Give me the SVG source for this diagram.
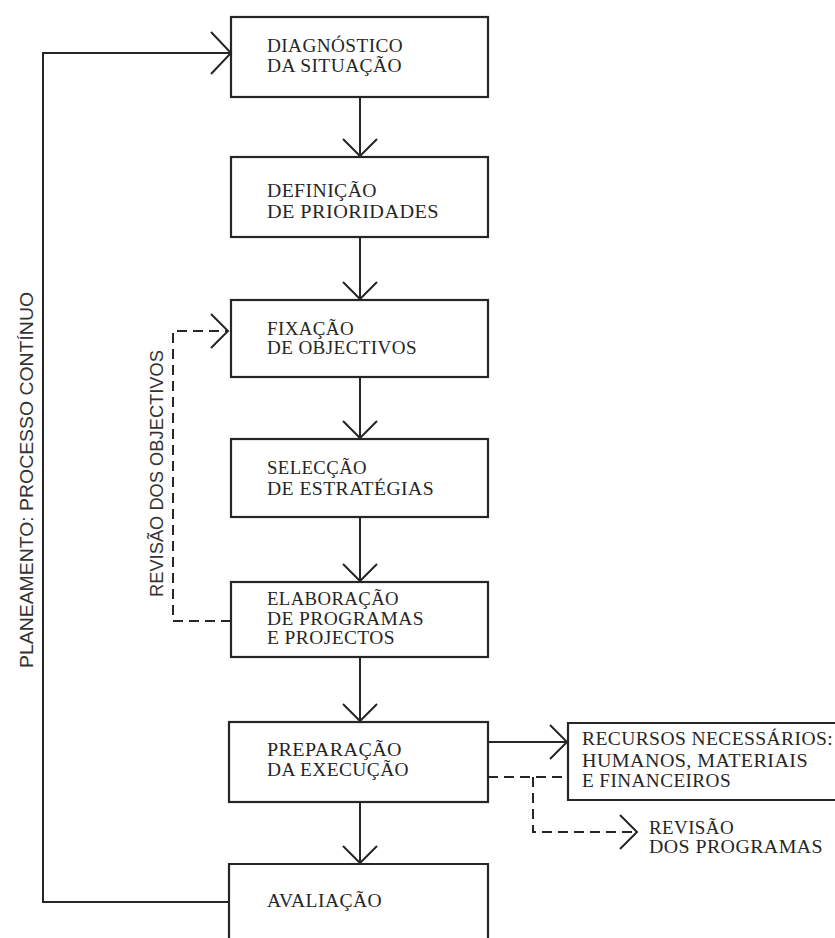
<svg xmlns="http://www.w3.org/2000/svg" width="835" height="938" viewBox="0 0 835 938">
<style>
.box{fill:none;stroke:#262626;stroke-width:2.2}
.t{font-family:"Liberation Serif","Times New Roman",serif;font-size:19px;fill:#262626;letter-spacing:0.4px}
.s{font-family:"Liberation Sans",Arial,sans-serif;font-size:18px;fill:#333}
.ln{fill:none;stroke:#262626;stroke-width:2}
.dash{fill:none;stroke:#262626;stroke-width:2;stroke-dasharray:10 6}
</style>
<defs>
<marker id="chev" viewBox="-20 -25 24 50" markerWidth="24" markerHeight="50" refX="0" refY="0" markerUnits="userSpaceOnUse" orient="auto">
<path d="M-17,-17 L0,0 L-17,17" fill="none" stroke="#262626" stroke-width="2"/>
</marker>
<marker id="chevL" viewBox="-24 -26 28 52" markerWidth="28" markerHeight="52" refX="0" refY="0" markerUnits="userSpaceOnUse" orient="auto">
<path d="M-20,-21 L0,0 L-20,21" fill="none" stroke="#262626" stroke-width="2"/>
</marker>
</defs>
<rect width="835" height="938" fill="#ffffff"/>

<g id="connectors">
<path class="ln" d="M229,902 H43 V53 H231" marker-end="url(#chevL)"/>
<line class="ln" x1="360" y1="97" x2="360" y2="156" marker-end="url(#chev)"/>
<line class="ln" x1="360" y1="237" x2="360" y2="299" marker-end="url(#chev)"/>
<line class="ln" x1="360" y1="377" x2="360" y2="438" marker-end="url(#chev)"/>
<line class="ln" x1="360" y1="517" x2="360" y2="581" marker-end="url(#chev)"/>
<line class="ln" x1="360" y1="657" x2="360" y2="721" marker-end="url(#chev)"/>
<line class="ln" x1="360" y1="802" x2="360" y2="863" marker-end="url(#chev)"/>
<path class="dash" d="M231,621 H173 V331 H228" marker-end="url(#chev)"/>
<line class="ln" x1="488" y1="742" x2="567" y2="742" marker-end="url(#chev)"/>
<line class="dash" x1="488" y1="777" x2="567" y2="777"/>
<path class="dash" d="M533,777 V832 H637" marker-end="url(#chev)"/>
</g>

<g id="diagnostico">
<rect class="box" x="231" y="17" width="257" height="80"/>
<text class="t" x="267" y="52" textLength="136" lengthAdjust="spacingAndGlyphs">DIAGNÓSTICO</text>
<text class="t" x="267" y="72" textLength="135" lengthAdjust="spacingAndGlyphs">DA SITUAÇÃO</text>
</g>
<g id="definicao">
<rect class="box" x="231" y="157" width="257" height="80"/>
<text class="t" x="267" y="197" textLength="110" lengthAdjust="spacingAndGlyphs">DEFINIÇÃO</text>
<text class="t" x="267" y="218" textLength="172" lengthAdjust="spacingAndGlyphs">DE PRIORIDADES</text>
</g>
<g id="fixacao">
<rect class="box" x="231" y="300" width="257" height="77"/>
<text class="t" x="267" y="335" textLength="87" lengthAdjust="spacingAndGlyphs">FIXAÇÃO</text>
<text class="t" x="267" y="354" textLength="150" lengthAdjust="spacingAndGlyphs">DE OBJECTIVOS</text>
</g>
<g id="seleccao">
<rect class="box" x="231" y="439" width="257" height="78"/>
<text class="t" x="267" y="474" textLength="100" lengthAdjust="spacingAndGlyphs">SELECÇÃO</text>
<text class="t" x="267" y="495" textLength="167" lengthAdjust="spacingAndGlyphs">DE ESTRATÉGIAS</text>
</g>
<g id="elaboracao">
<rect class="box" x="231" y="582" width="257" height="75"/>
<text class="t" x="267" y="605" textLength="132" lengthAdjust="spacingAndGlyphs">ELABORAÇÃO</text>
<text class="t" x="267" y="625" textLength="157" lengthAdjust="spacingAndGlyphs">DE PROGRAMAS</text>
<text class="t" x="267" y="644" textLength="128" lengthAdjust="spacingAndGlyphs">E PROJECTOS</text>
</g>
<g id="preparacao">
<rect class="box" x="229" y="722" width="259" height="80"/>
<text class="t" x="267" y="756" textLength="135" lengthAdjust="spacingAndGlyphs">PREPARAÇÃO</text>
<text class="t" x="267" y="776" textLength="142" lengthAdjust="spacingAndGlyphs">DA EXECUÇÃO</text>
</g>
<g id="avaliacao">
<path class="box" d="M229,945 V864 H488 V945"/>
<text class="t" x="267" y="907" textLength="115" lengthAdjust="spacingAndGlyphs">AVALIAÇÃO</text>
</g>
<g id="recursos">
<path class="box" d="M845,723 H568 V800 H845"/>
<text class="t" x="582" y="745" textLength="251" lengthAdjust="spacingAndGlyphs">RECURSOS NECESSÁRIOS:</text>
<text class="t" x="582" y="767" textLength="226" lengthAdjust="spacingAndGlyphs">HUMANOS, MATERIAIS</text>
<text class="t" x="582" y="787" textLength="149" lengthAdjust="spacingAndGlyphs">E FINANCEIROS</text>
</g>
<g id="revisao-programas">
<text class="t" x="649" y="834" textLength="85" lengthAdjust="spacingAndGlyphs">REVISÃO</text>
<text class="t" x="649" y="853" textLength="174" lengthAdjust="spacingAndGlyphs">DOS PROGRAMAS</text>
</g>
<g id="revisao-objectivos">
<text class="s" transform="translate(163,597) rotate(-90)" textLength="247" lengthAdjust="spacingAndGlyphs">REVISÃO DOS OBJECTIVOS</text>
</g>
<g id="planeamento">
<text class="s" style="font-size:19px" transform="translate(33,668) rotate(-90)" textLength="376" lengthAdjust="spacingAndGlyphs">PLANEAMENTO: PROCESSO CONTÍNUO</text>
</g>
</svg>
